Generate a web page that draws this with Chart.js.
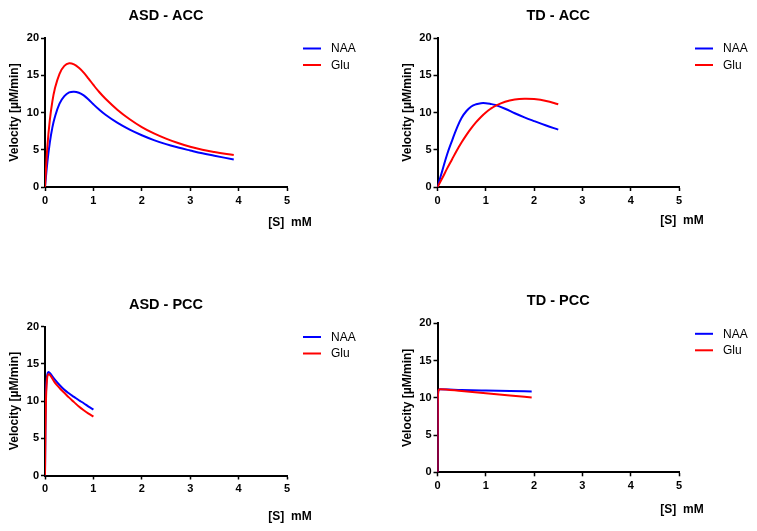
<!DOCTYPE html>
<html>
<head>
<meta charset="utf-8">
<title>Velocity vs [S]</title>
<script src="https://cdn.jsdelivr.net/npm/chart.js@4.4.1/dist/chart.umd.min.js"></script>
<style>
    body { margin: 0; background: #fff; }
    #wrap { position: relative; width: 757px; height: 531px; overflow: hidden; }
    #wrap canvas { position: absolute; }
</style>
</head>
<body>
<div id="wrap">
    <canvas id="asdAcc"></canvas>
    <canvas id="tdAcc"></canvas>
    <canvas id="asdPcc"></canvas>
    <canvas id="tdPcc"></canvas>
</div>
<script>
    // 資料 /////////////////////////////////////////////////////////////
    var seriesNames = ['NAA', 'Glu'];
    var xTicks = [0, 1, 2, 3, 4, 5];
    var yTicks = [0, 5, 10, 15, 20];

    // ASD - ACC
    var asdAccS = [0, 0.05, 0.1, 0.15, 0.2, 0.3, 0.4, 0.5, 0.6, 0.7, 0.8, 0.9, 1.0, 1.1, 1.25, 1.5, 1.75, 2.0, 2.25, 2.5, 2.75, 3.0, 3.25, 3.5, 3.9];
    var asdAccNAA = [0, 3.4, 6.0, 7.9, 9.3, 11.2, 12.2, 12.7, 12.8, 12.65, 12.3, 11.75, 11.1, 10.5, 9.7, 8.6, 7.7, 6.95, 6.3, 5.75, 5.3, 4.9, 4.52, 4.2, 3.68];
    var asdAccGlu = [0, 5.5, 9.0, 11.4, 13.1, 15.2, 16.25, 16.6, 16.45, 16.0, 15.35, 14.55, 13.7, 12.9, 11.85, 10.35, 9.1, 8.05, 7.2, 6.5, 5.9, 5.4, 5.0, 4.7, 4.3];

    // TD - ACC
    var tdAccS = [0, 0.1, 0.2, 0.3, 0.4, 0.5, 0.6, 0.7, 0.8, 0.9, 1.0, 1.1, 1.2, 1.4, 1.6, 1.8, 2.0, 2.25, 2.5];
    var tdAccNAA = [0, 2.2, 4.4, 6.2, 7.9, 9.3, 10.2, 10.8, 11.1, 11.25, 11.25, 11.15, 11.0, 10.5, 9.9, 9.35, 8.85, 8.25, 7.7];
    var tdAccGlu = [0, 1.2, 2.5, 3.7, 4.9, 6.0, 7.0, 7.9, 8.7, 9.4, 10.0, 10.5, 10.9, 11.45, 11.75, 11.85, 11.8, 11.55, 11.1];

    // ASD - PCC
    var asdPccS = [0, 0.01, 0.02, 0.04, 0.07, 0.1, 0.2, 0.3, 0.4, 0.5, 0.6, 0.7, 0.8, 0.9, 1.0];
    var asdPccNAA = [0, 7.5, 11.0, 13.2, 13.9, 13.75, 12.9, 12.15, 11.5, 11.0, 10.55, 10.1, 9.7, 9.25, 8.85];
    var asdPccGlu = [0, 6.0, 10.0, 12.8, 13.6, 13.5, 12.5, 11.75, 11.1, 10.45, 9.85, 9.25, 8.75, 8.3, 7.9];

    // TD - PCC
    var tdPccS = [0, 0.005, 0.02, 0.05, 0.5, 1.0, 1.5, 1.95];
    var tdPccNAA = [0, 9.0, 11.0, 11.15, 11.05, 10.97, 10.9, 10.85];
    var tdPccGlu = [0, 9.0, 11.0, 11.15, 10.9, 10.6, 10.3, 10.05];

    // 版面 (頁面座標) ///////////////////////////////////////////////////
    var panels = [
        { id: 'asdAcc', title: 'ASD - ACC', s: asdAccS, naa: asdAccNAA, glu: asdAccGlu, monotone: false,
          canvas: { x: 0, y: 0, w: 378, h: 265 }, area: { l: 45, t: 38, r: 287, b: 187 }, xTitleGap: 36 },
        { id: 'tdAcc', title: 'TD - ACC', s: tdAccS, naa: tdAccNAA, glu: tdAccGlu, monotone: false,
          canvas: { x: 378, y: 0, w: 379, h: 265 }, area: { l: 437.5, t: 38, r: 679, b: 187 }, xTitleGap: 34 },
        { id: 'asdPcc', title: 'ASD - PCC', s: asdPccS, naa: asdPccNAA, glu: asdPccGlu, monotone: true,
          canvas: { x: 0, y: 265, w: 378, h: 266 }, area: { l: 45, t: 326.5, r: 287, b: 475.5 }, xTitleGap: 41.5 },
        { id: 'tdPcc', title: 'TD - PCC', s: tdPccS, naa: tdPccNAA, glu: tdPccGlu, monotone: true,
          canvas: { x: 378, y: 265, w: 379, h: 266 }, area: { l: 437.5, t: 323.3, r: 679, b: 472.3 }, xTitleGap: 37 }
    ];

    var FONT = '"Liberation Sans", Arial, sans-serif';
    var Y_AXIS_W = 45;

    // 標題、圖例、X軸標題
    var extrasPlugin = {
        id: 'extras',
        afterDraw: function (chart) {
            var o = chart.options.plugins.extras;
            var area = chart.chartArea;
            var ctx = chart.ctx;
            ctx.save();
            ctx.fillStyle = '#000';
            ctx.textBaseline = 'middle';

            ctx.textAlign = 'center';
            ctx.font = 'bold 14.5px ' + FONT;
            ctx.fillText(o.title, (area.left + area.right) / 2, area.top - 22);

            ctx.font = 'bold 12px ' + FONT;
            ctx.fillText('[S]  mM', area.right + 3, area.bottom + o.xTitleGap);

            ctx.textAlign = 'left';
            ctx.font = '12px ' + FONT;
            chart.data.datasets.forEach(function (ds, i) {
                var y = area.top + 10.5 + i * 16.5;
                ctx.strokeStyle = ds.borderColor;
                ctx.lineWidth = 2;
                ctx.beginPath();
                ctx.moveTo(area.right + 16, y);
                ctx.lineTo(area.right + 34, y);
                ctx.stroke();
                ctx.fillText(ds.label, area.right + 44, y + 0.5);
            });
            ctx.restore();
        }
    };

    function points(s, v) {
        return s.map(function (x, i) { return { x: x, y: v[i] }; });
    }

    window.onload = function () {
        panels.forEach(function (p) {
            var el = document.getElementById(p.id);
            el.width = p.canvas.w;
            el.height = p.canvas.h;
            el.style.left = p.canvas.x + 'px';
            el.style.top = p.canvas.y + 'px';

            var left = p.area.l - p.canvas.x;
            var top = p.area.t - p.canvas.y;
            var right = p.area.r - p.canvas.x;
            var bottom = p.area.b - p.canvas.y;
            var interp = p.monotone ? 'monotone' : 'default';

            new Chart(el.getContext('2d'), {
                type: 'line',
                data: {
                    datasets: [{
                        label: seriesNames[0],
                        data: points(p.s, p.naa),
                        borderColor: '#0000ff',
                        borderWidth: 2,
                        pointRadius: 0,
                        tension: 0.4,
                        cubicInterpolationMode: interp,
                        order: 1
                    }, {
                        label: seriesNames[1],
                        data: points(p.s, p.glu),
                        borderColor: '#ff0000',
                        borderWidth: 2,
                        pointRadius: 0,
                        tension: 0.4,
                        cubicInterpolationMode: interp,
                        order: 0
                    }]
                },
                options: {
                    responsive: false,
                    animation: false,
                    devicePixelRatio: 1,
                    layout: {
                        padding: { left: left - Y_AXIS_W, top: top, right: p.canvas.w - right, bottom: 0 }
                    },
                    plugins: {
                        legend: { display: false },
                        tooltip: { enabled: false },
                        extras: { title: p.title, xTitleGap: p.xTitleGap }
                    },
                    scales: {
                        x: {
                            type: 'linear',
                            min: xTicks[0],
                            max: xTicks[xTicks.length - 1],
                            afterFit: function (axis) { axis.height = p.canvas.h - bottom; },
                            afterBuildTicks: function (axis) {
                                axis.ticks = xTicks.map(function (v) { return { value: v }; });
                            },
                            border: { display: true, color: '#000', width: 2 },
                            grid: { drawOnChartArea: false, tickLength: 4, tickColor: '#000', tickWidth: 1.5 },
                            ticks: { color: '#000', padding: 3, font: { family: FONT, size: 11, weight: 'bold' } }
                        },
                        y: {
                            type: 'linear',
                            min: yTicks[0],
                            max: yTicks[yTicks.length - 1],
                            afterFit: function (axis) { axis.width = Y_AXIS_W; },
                            afterBuildTicks: function (axis) {
                                axis.ticks = yTicks.map(function (v) { return { value: v }; });
                            },
                            border: { display: true, color: '#000', width: 2 },
                            grid: { drawOnChartArea: false, tickLength: 4, tickColor: '#000', tickWidth: 1.5 },
                            ticks: { color: '#000', padding: 2, font: { family: FONT, size: 11, weight: 'bold' } },
                            title: {
                                display: true,
                                text: 'Velocity [µM/min]',
                                color: '#000',
                                padding: { top: 7.8, bottom: 0 },
                                font: { family: FONT, size: 12, weight: 'bold' }
                            }
                        }
                    }
                },
                plugins: [extrasPlugin]
            });
        });
    };
</script>
</body>
</html>
